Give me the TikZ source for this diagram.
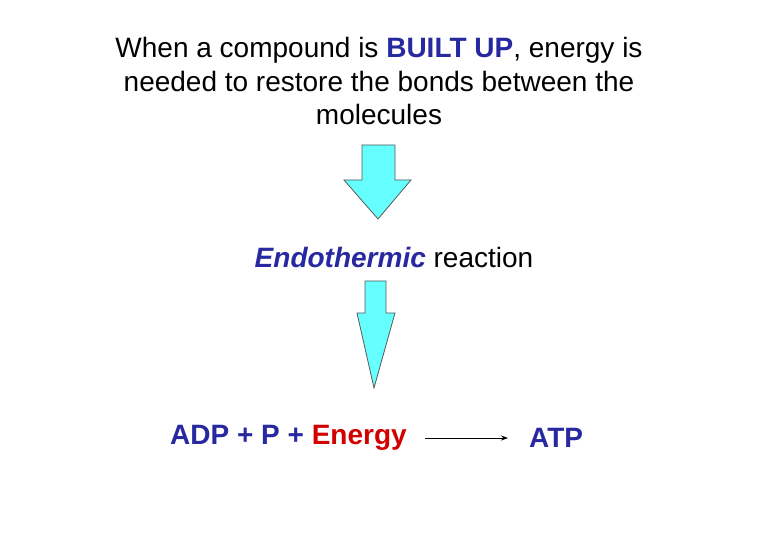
\documentclass[tikz,border=0pt]{standalone}
\usepackage{fontspec}
\usetikzlibrary{arrows.meta}
\setmainfont{Liberation Sans}
\definecolor{tblue}{RGB}{40,40,160}
\definecolor{tred}{RGB}{210,0,0}
\definecolor{acyan}{RGB}{102,255,255}
\begin{document}
\begin{tikzpicture}[x=1pt,y=-1pt,
  txt/.style={font=\fontsize{28}{33.5}\selectfont, inner sep=0pt},
  blockarrow/.style={fill=acyan, draw=gray!70!black, line width=0.8pt}]
\useasboundingbox (0,0) rectangle (780,540);
\node[txt, align=center] (title) at (379,81) {When a compound is \textbf{\textcolor{tblue}{BUILT UP}}, energy is\\needed to restore the bonds between the\\molecules};
\draw[blockarrow] (362,145) -- (395,145) -- (395,180) -- (411,180) -- (378,219) -- (344,180) -- (362,180) -- cycle;
\node[txt] (endo) at (394,257) {\textbf{\textit{\textcolor{tblue}{Endothermic}}} reaction};
\draw[blockarrow] (365,281) -- (386,281) -- (386,313) -- (395,313) -- (374,388) -- (357,313) -- (365,313) -- cycle;
\node[txt, anchor=west] (left) at (170,438) {\textbf{\textcolor{tblue}{ADP + P + }\textcolor{tred}{Energy}}};
\node[txt, anchor=west] (atp) at (529,438) {\textbf{\textcolor{tblue}{ATP}}};
\coordinate (a1) at (425,438);
\coordinate (a2) at (508,438);
\draw[-{Stealth[length=7pt,width=5pt]}, line width=1pt] (a1) -- (a2);
\end{tikzpicture}
\end{document}
